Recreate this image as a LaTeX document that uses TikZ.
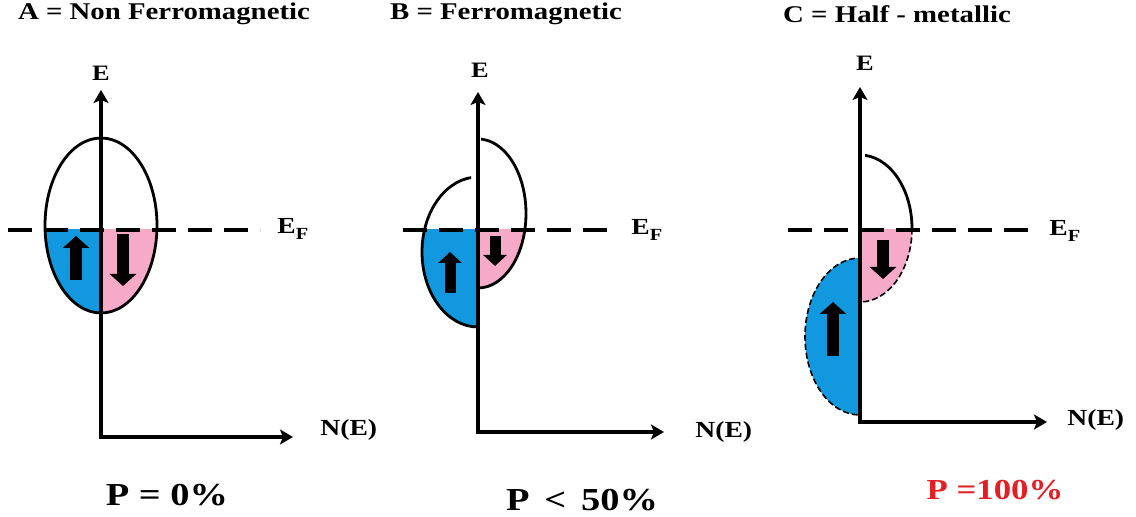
\documentclass[tikz,border=0pt]{standalone}
\usepackage{fontspec}
\newfontfamily\labfont{Liberation Serif}[FakeStretch=1.2]
\usetikzlibrary{arrows.meta}
\definecolor{upblue}{RGB}{18,152,222}
\definecolor{dnpink}{RGB}{247,170,200}
\definecolor{pred}{RGB}{228,30,36}
\begin{document}
\begin{tikzpicture}[x=0.5pt,y=-0.5pt,
  axis/.style={line width=1.6pt,-{Stealth[length=6.5pt,width=7.5pt,inset=1.5pt]}},
  fermi/.style={line width=1.6pt,dash pattern=on 12pt off 6pt},
  band/.style={line width=1.4pt},
  banddash/.style={line width=0.8pt,dash pattern=on 3pt off 1.5pt},
  spin/.style={line width=6.2pt,-{Triangle[length=6pt,width=13pt]}},
  spinsmall/.style={line width=5.5pt,-{Triangle[length=5.5pt,width=11.5pt]}},
  ttl/.style={font=\labfont\bfseries\fontsize{12}{14}\selectfont,inner sep=0pt},
  elab/.style={font=\labfont\bfseries\fontsize{11}{13}\selectfont,inner sep=0pt},
  nlab/.style={font=\labfont\bfseries\fontsize{11.5}{13}\selectfont,inner sep=0pt,anchor=west},
  flab/.style={font=\labfont\bfseries\fontsize{11.5}{13}\selectfont,inner sep=0pt,anchor=west},
  plab/.style={font=\labfont\bfseries\fontsize{16}{18}\selectfont,inner sep=0pt}]
\useasboundingbox (0,0) rectangle (1136,517);

% ---------------- coordinates ----------------
\coordinate (oA) at (101,437); \coordinate (tA) at (101,90); \coordinate (xA) at (293,437);
\coordinate (fA1) at (8,230); \coordinate (fA2) at (260,230);
\coordinate (oB) at (478,432); \coordinate (tB) at (478,92); \coordinate (xB) at (664,432);
\coordinate (fB1) at (403,230); \coordinate (fB2) at (612,230);
\coordinate (oC) at (860,422); \coordinate (tC) at (860,87); \coordinate (xC) at (1047,422);
\coordinate (fC1) at (788,230); \coordinate (fC2) at (1035,230);

% ---------------- Panel A ----------------
\begin{scope}
  \clip (0,230) rectangle (101,517);
  \fill[upblue] (101,225.5) ellipse [x radius=56, y radius=87.5];
\end{scope}
\begin{scope}
  \clip (101,230) rectangle (300,517);
  \fill[dnpink] (101,225.5) ellipse [x radius=56, y radius=87.5];
\end{scope}
\draw[band] (101,225.5) ellipse [x radius=56, y radius=87.5];

% ---------------- Panel B ----------------
\begin{scope}
  \clip (380,230) rectangle (478,517);
  \fill[upblue] (478,252) ellipse [x radius=56, y radius=75];
\end{scope}
\begin{scope}
  \clip (478,230) rectangle (600,517);
  \fill[dnpink] (478,213.5) ellipse [x radius=48, y radius=74.5];
\end{scope}
\begin{scope}
  \clip (380,0) -- (471,0) -- (471,230) -- (478,230) -- (478,517) -- (380,517) -- cycle;
  \draw[band] (478,252) ellipse [x radius=56, y radius=75];
\end{scope}
\begin{scope}
  \clip (481,0) -- (600,0) -- (600,517) -- (478,517) -- (478,230) -- (481,230) -- cycle;
  \draw[band] (478,213.5) ellipse [x radius=48, y radius=74.5];
\end{scope}

% ---------------- Panel C ----------------
\begin{scope}
  \clip (860,230) rectangle (1000,517);
  \fill[dnpink] (860,228.5) ellipse [x radius=52, y radius=73.5];
  \draw[banddash] (860,228.5) ellipse [x radius=52, y radius=73.5];
\end{scope}
\begin{scope}
  \clip (865,0) rectangle (1000,230);
  \draw[band] (860,228.5) ellipse [x radius=52, y radius=73.5];
\end{scope}
\begin{scope}
  \clip (780,0) rectangle (860,517);
  \fill[upblue] (860,336.5) ellipse [x radius=55, y radius=78.5];
  \draw[banddash] (860,336.5) ellipse [x radius=55, y radius=78.5];
\end{scope}

% ---------------- Fermi levels and axes ----------------
\draw[fermi] (fA1) -- (fA2);
\draw[fermi] (fB1) -- (fB2);
\draw[fermi] (fC1) -- (fC2);

\draw[axis] (oA) -- (tA);
\draw[axis] ([xshift=-0.8pt]oA) -- (xA);
\draw[axis] (oB) -- (tB);
\draw[axis] ([xshift=-0.8pt]oB) -- (xB);
\draw[axis] (oC) -- (tC);
\draw[axis] ([xshift=-0.8pt]oC) -- (xC);

% ---------------- spin arrows ----------------
\coordinate (uA1) at (76,280); \coordinate (uA2) at (76,236);
\coordinate (dA1) at (123,234); \coordinate (dA2) at (123,286);
\coordinate (uB1) at (450,293); \coordinate (uB2) at (450,252);
\coordinate (dB1) at (495,236); \coordinate (dB2) at (495,266);
\coordinate (dC1) at (883,240); \coordinate (dC2) at (883,279);
\coordinate (uC1) at (833,356); \coordinate (uC2) at (833,302);
\draw[spin] (uA1) -- (uA2);
\draw[spin] (dA1) -- (dA2);
\draw[spinsmall] (uB1) -- (uB2);
\draw[spinsmall] (dB1) -- (dB2);
\draw[spin] (dC1) -- (dC2);
\draw[spin] (uC1) -- (uC2);

% ---------------- labels ----------------
\node[ttl] (titA) at (164,14) {A = Non Ferromagnetic};
\node[ttl] (titB) at (506,14) {B = Ferromagnetic};
\node[ttl] (titC) at (897,14) {C = Half - metallic};

\node[elab] (eA) at (101,73) {E};
\node[elab] (eB) at (480,70) {E};
\node[elab] (eC) at (865,63) {E};

\node[flab] (efA) at (277,229) {E\raisebox{-3pt}{\fontsize{8.5}{9}\selectfont F}};
\node[flab] (efB) at (631,230) {E\raisebox{-3pt}{\fontsize{8.5}{9}\selectfont F}};
\node[flab] (efC) at (1049,231) {E\raisebox{-3pt}{\fontsize{8.5}{9}\selectfont F}};

\node[nlab] (nA) at (320,430) {N(E)};
\node[nlab] (nB) at (695,432) {N(E)};
\node[nlab] (nC) at (1067,420) {N(E)};

\node[plab] (pA) at (167,495) {P = 0\%};
\node[plab] (pB) at (582,500) {P \,<\, 50\%};
\node[plab,text=pred,font=\labfont\bfseries\fontsize{14.5}{16}\selectfont] (pC) at (995,490) {P =100\%};
\end{tikzpicture}
\end{document}
